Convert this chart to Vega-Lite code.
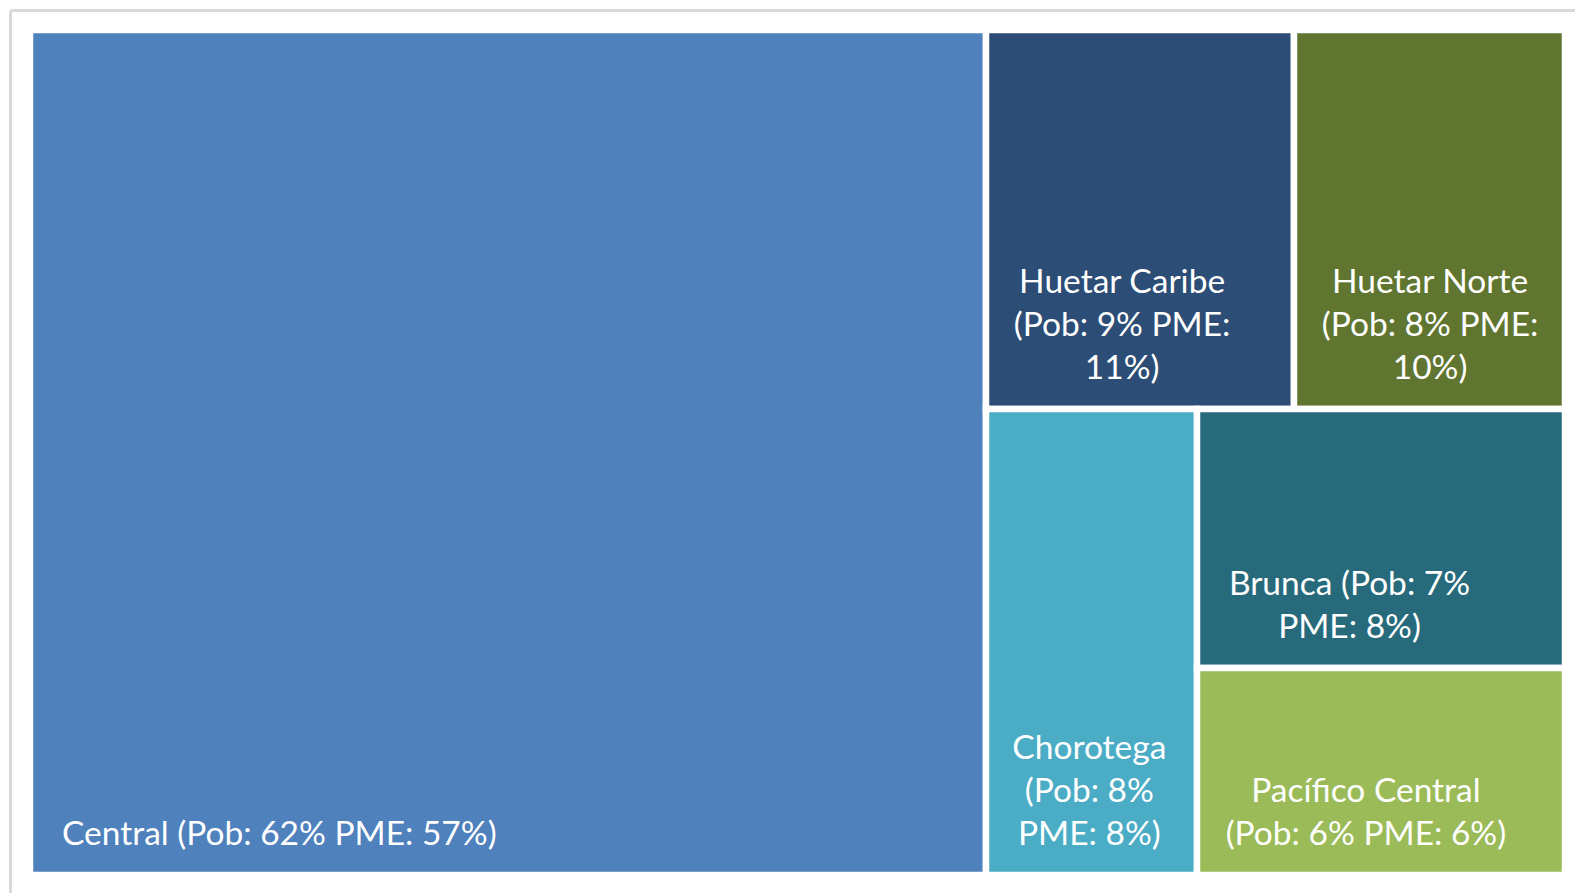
{
  "$schema": "https://vega.github.io/schema/vega-lite/v6.json",
  "width": 1565,
  "height": 883,
  "autosize": {"type": "none"},
  "padding": {"left": 10, "top": 10, "right": 0, "bottom": 0},
  "background": "white",
  "config": {"view": {"stroke": null}},
  "data": {
    "values": [
      {"region": "Central", "pob": 62.28, "pme": 57, "l1": "a", "l2": "a", "l3": "a", "l4": "a", "label": "Central (Pob: 62% PME: 57%)"},
      {"region": "Huetar Caribe", "pob": 9.0, "pme": 11, "l1": "b", "l2": "a", "l3": "a", "l4": "a", "label": "Huetar Caribe\n(Pob: 9% PME:\n11%)"},
      {"region": "Huetar Norte", "pob": 7.92, "pme": 10, "l1": "b", "l2": "a", "l3": "b", "l4": "a", "label": "Huetar Norte\n(Pob: 8% PME:\n10%)"},
      {"region": "Chorotega", "pob": 7.58, "pme": 8, "l1": "b", "l2": "b", "l3": "a", "l4": "a", "label": "Chorotega\n(Pob: 8%\nPME: 8%)"},
      {"region": "Brunca", "pob": 7.35, "pme": 8, "l1": "b", "l2": "b", "l3": "b", "l4": "a", "label": "Brunca (Pob: 7%\nPME: 8%)"},
      {"region": "Pacífico Central", "pob": 5.87, "pme": 6, "l1": "b", "l2": "b", "l3": "b", "l4": "b", "label": "Pacífico Central\n(Pob: 6% PME: 6%)"}
    ]
  },
  "transform": [
    {"stack": "pob", "groupby": [], "sort": [{"field": "l1"}, {"field": "l2"}, {"field": "l3"}, {"field": "l4"}], "as": ["s1a", "s1b"]},
    {"joinaggregate": [{"op": "min", "field": "s1a", "as": "ga"}, {"op": "max", "field": "s1b", "as": "gb"}], "groupby": ["l1"]},
    {"stack": "pob", "groupby": ["l1"], "sort": [{"field": "l2"}, {"field": "l3"}, {"field": "l4"}], "as": ["s2a", "s2b"]},
    {"joinaggregate": [{"op": "min", "field": "s2a", "as": "ha"}, {"op": "max", "field": "s2b", "as": "hb"}], "groupby": ["l1", "l2"]},
    {"joinaggregate": [{"op": "sum", "field": "pob", "as": "t1"}], "groupby": ["l1"]},
    {"calculate": "100 * datum.ha / datum.t1", "as": "ya"},
    {"calculate": "100 * datum.hb / datum.t1", "as": "yb"},
    {"stack": "pob", "groupby": ["l1", "l2"], "sort": [{"field": "l3"}, {"field": "l4"}], "as": ["s3a", "s3b"]},
    {"joinaggregate": [{"op": "min", "field": "s3a", "as": "ia"}, {"op": "max", "field": "s3b", "as": "ib"}], "groupby": ["l1", "l2", "l3"]},
    {"joinaggregate": [{"op": "sum", "field": "pob", "as": "t2"}], "groupby": ["l1", "l2"]},
    {"calculate": "datum.ga + (datum.gb - datum.ga) * datum.ia / datum.t2", "as": "x0"},
    {"calculate": "datum.ga + (datum.gb - datum.ga) * datum.ib / datum.t2", "as": "x1"},
    {"stack": "pob", "groupby": ["l1", "l2", "l3"], "sort": [{"field": "l4"}], "as": ["s4a", "s4b"]},
    {"joinaggregate": [{"op": "sum", "field": "pob", "as": "t3"}], "groupby": ["l1", "l2", "l3"]},
    {"calculate": "datum.ya + (datum.yb - datum.ya) * datum.s4a / datum.t3", "as": "y0"},
    {"calculate": "datum.ya + (datum.yb - datum.ya) * datum.s4b / datum.t3", "as": "y1"},
    {"calculate": "split(datum.label, '\\n')", "as": "lines"},
    {"calculate": "length(datum.lines)", "as": "nlines"},
    {"calculate": "max(length(datum.lines[0]), length(datum.lines[1] || ''), length(datum.lines[2] || ''))", "as": "maxc"},
    {"calculate": "datum.x0 + 8.2 * datum.maxc / 15.35", "as": "xc"}
  ],
  "layer": [
    {
      "mark": {"type": "rect", "stroke": "white", "strokeWidth": 6.5},
      "encoding": {
        "x": {"field": "x0", "type": "quantitative", "scale": {"domain": [-1.303, 100.651], "nice": false, "zero": false},
              "axis": {"orient": "top", "title": null, "labels": false, "ticks": false, "grid": false, "domain": true, "domainColor": "#d9d9d9", "domainWidth": 3}},
        "x2": {"field": "x1"},
        "y": {"field": "y0", "type": "quantitative", "scale": {"domain": [-2.367, 102.13], "nice": false, "zero": false, "reverse": true},
              "axis": {"orient": "left", "title": null, "labels": false, "ticks": false, "grid": false, "domain": true, "domainColor": "#d9d9d9", "domainWidth": 3}},
        "y2": {"field": "y1"},
        "color": {"field": "region", "type": "nominal", "legend": null,
                  "scale": {"domain": ["Central", "Huetar Caribe", "Huetar Norte", "Chorotega", "Brunca", "Pacífico Central"],
                            "range": ["#4F81BD", "#2C4D75", "#5F7530", "#4BACC6", "#276A7C", "#9BBB59"]}}
      }
    },
    {
      "transform": [{"filter": "datum.l1 == 'a'"}],
      "mark": {"type": "text", "align": "left", "baseline": "bottom", "dx": 32, "dy": -23, "font": "Lato", "fontSize": 33.5, "lineHeight": 43, "color": "white", "lineBreak": "\n"},
      "encoding": {
        "x": {"field": "x0", "type": "quantitative",
              "axis": {"orient": "top", "title": null, "labels": false, "ticks": false, "grid": false, "domain": true, "domainColor": "#d9d9d9", "domainWidth": 3}},
        "y": {"field": "y1", "type": "quantitative",
              "axis": {"orient": "left", "title": null, "labels": false, "ticks": false, "grid": false, "domain": true, "domainColor": "#d9d9d9", "domainWidth": 3}},
        "text": {"field": "label"}
      }
    },
    {
      "transform": [{"filter": "datum.l1 != 'a' && datum.nlines == 2"}],
      "mark": {"type": "text", "align": "center", "baseline": "bottom", "dx": 29.5, "dy": -66, "font": "Lato", "fontSize": 33.5, "lineHeight": 43, "color": "white", "lineBreak": "\n"},
      "encoding": {
        "x": {"field": "xc", "type": "quantitative",
              "axis": {"orient": "top", "title": null, "labels": false, "ticks": false, "grid": false, "domain": true, "domainColor": "#d9d9d9", "domainWidth": 3}},
        "y": {"field": "y1", "type": "quantitative",
              "axis": {"orient": "left", "title": null, "labels": false, "ticks": false, "grid": false, "domain": true, "domainColor": "#d9d9d9", "domainWidth": 3}},
        "text": {"field": "label"}
      }
    },
    {
      "transform": [{"filter": "datum.l1 != 'a' && datum.nlines == 3"}],
      "mark": {"type": "text", "align": "center", "baseline": "bottom", "dx": 29.5, "dy": -109, "font": "Lato", "fontSize": 33.5, "lineHeight": 43, "color": "white", "lineBreak": "\n"},
      "encoding": {
        "x": {"field": "xc", "type": "quantitative",
              "axis": {"orient": "top", "title": null, "labels": false, "ticks": false, "grid": false, "domain": true, "domainColor": "#d9d9d9", "domainWidth": 3}},
        "y": {"field": "y1", "type": "quantitative",
              "axis": {"orient": "left", "title": null, "labels": false, "ticks": false, "grid": false, "domain": true, "domainColor": "#d9d9d9", "domainWidth": 3}},
        "text": {"field": "label"}
      }
    }
  ]
}
